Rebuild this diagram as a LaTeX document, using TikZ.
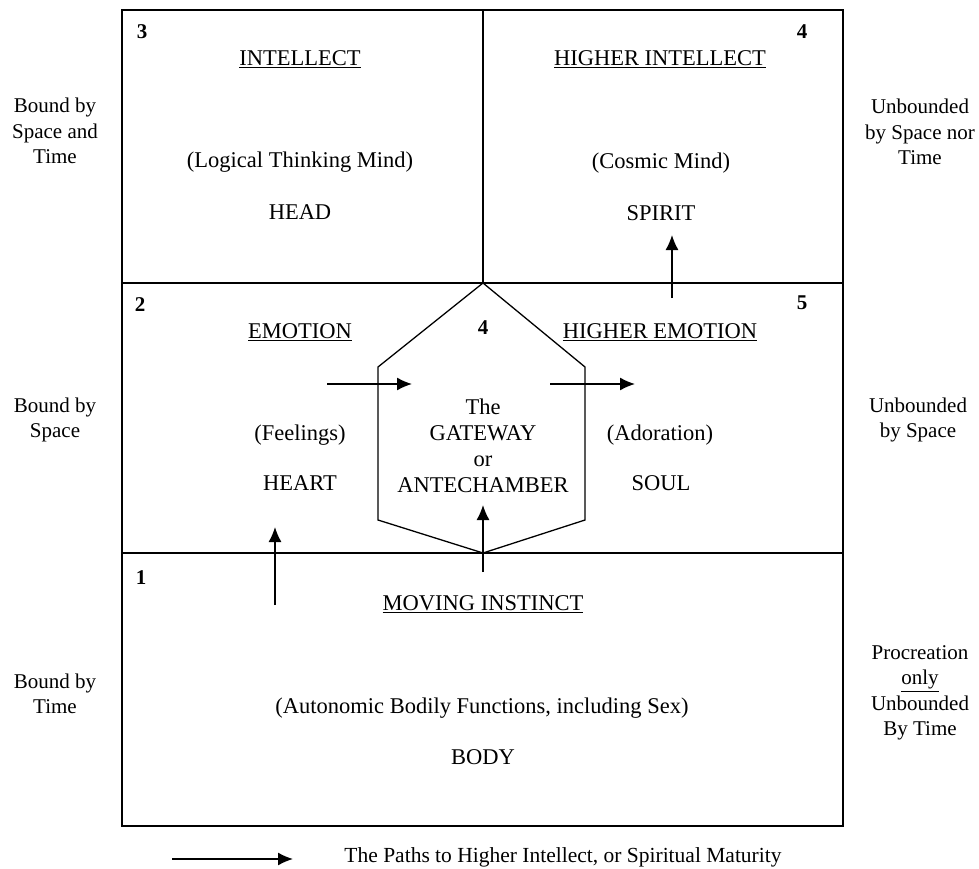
\documentclass[tikz,border=0pt]{standalone}
\usepackage{fontspec}
\setmainfont{Liberation Serif}
\usetikzlibrary{arrows.meta}

\tikzset{every picture/.style={line width=0.75pt}}
\tikzset{
  lbl/.style={font=\fontsize{22.5}{26}\selectfont,align=center,inner sep=0pt},
  side/.style={font=\fontsize{21}{25.5}\selectfont,align=center,inner sep=0pt},
  num/.style={font=\fontsize{21}{25}\selectfont\bfseries,inner sep=0pt},
  frame/.style={line width=1.8pt},
  pth/.style={-{Latex[length=15pt,width=13pt]},line width=1.4pt}
}

\begin{document}
\begin{tikzpicture}[x=1pt,y=1pt,yscale=-1,xscale=1]
				\useasboundingbox (0,0) rectangle (979,869);
				\draw[frame] (122,10) rectangle (843,826); %外枠
				\draw[frame] (122,283)--(843,283);
				\draw[frame] (122,553)--(843,553);
				\draw[frame] (483,10)--(483,283);
				\draw[line width=1.3pt] (483,283)--(585,367)--(585,520)--(483,553)--(378,520)--(378,367)--cycle; %六角形
				% 上段
				\node[num] (n3) at (142,32) {3};
				\node[num] (n4a) at (802,32) {4};
				\node[lbl] (intellect) at (300,59) {\underline{INTELLECT}};
				\node[lbl] (logic) at (300,162) {(Logical Thinking Mind)};
				\node[lbl] (head) at (300,212) {HEAD};
				\node[lbl] (hintellect) at (660,59) {\underline{HIGHER INTELLECT}};
				\node[lbl] (cosmic) at (661,163) {(Cosmic Mind)};
				\node[lbl] (spirit) at (661,213) {SPIRIT};
				% 中段
				\node[num] (n2) at (140,305) {2};
				\node[num] (n5) at (802,303) {5};
				\node[num] (n4b) at (483,328) {4};
				\node[lbl] (emotion) at (300,332) {\underline{EMOTION}};
				\node[lbl] (feelings) at (300,435) {(Feelings)};
				\node[lbl] (heart) at (300,483) {HEART};
				\node[lbl] (hemotion) at (660,332) {\underline{HIGHER EMOTION}};
				\node[lbl] (adoration) at (660,435) {(Adoration)};
				\node[lbl] (soul) at (661,483) {SOUL};
				\node[lbl] (gateway) at (483,446) {The\\GATEWAY\\or\\ANTECHAMBER};
				% 下段
				\node[num] (n1) at (141,578) {1};
				\node[lbl] (moving) at (483,604) {\underline{MOVING INSTINCT}};
				\node[lbl] (auto) at (482,708) {(Autonomic Bodily Functions, including Sex)};
				\node[lbl] (body) at (483,757) {BODY};
				% 両側
				\node[side] (bst) at (55,131) {Bound by\\Space and\\Time};
				\node[side] (bs) at (55,420) {Bound by\\Space};
				\node[side] (bt) at (55,694) {Bound by\\Time};
				\node[side] (ust) at (920,132) {Unbounded\\by Space nor\\Time};
				\node[side] (us) at (918,420) {Unbounded\\by Space};
				\node[side] (proc) at (920,693) {Procreation\\\underline{only}\\Unbounded\\By Time};
				% 矢印
				\coordinate (h0) at (275,605); \coordinate (h1) at (275,527);
				\coordinate (g0) at (483,572); \coordinate (g1) at (483,505);
				\coordinate (l0) at (327,384); \coordinate (l1) at (412,384);
				\coordinate (r0) at (550,384); \coordinate (r1) at (635,384);
				\coordinate (s0) at (672,298); \coordinate (s1) at (672,235);
				\draw[pth] (h0)--(h1);
				\draw[pth] (g0)--(g1);
				\draw[pth] (l0)--(l1);
				\draw[pth] (r0)--(r1);
				\draw[pth] (s0)--(s1);
				% 凡例
				\coordinate (k0) at (172,859); \coordinate (k1) at (293,859);
				\draw[pth] (k0)--(k1);
				\node[side,font=\fontsize{21.5}{25}\selectfont] (legend) at (563,857) {The Paths to Higher Intellect, or Spiritual Maturity};
			\end{tikzpicture}
\end{document}
